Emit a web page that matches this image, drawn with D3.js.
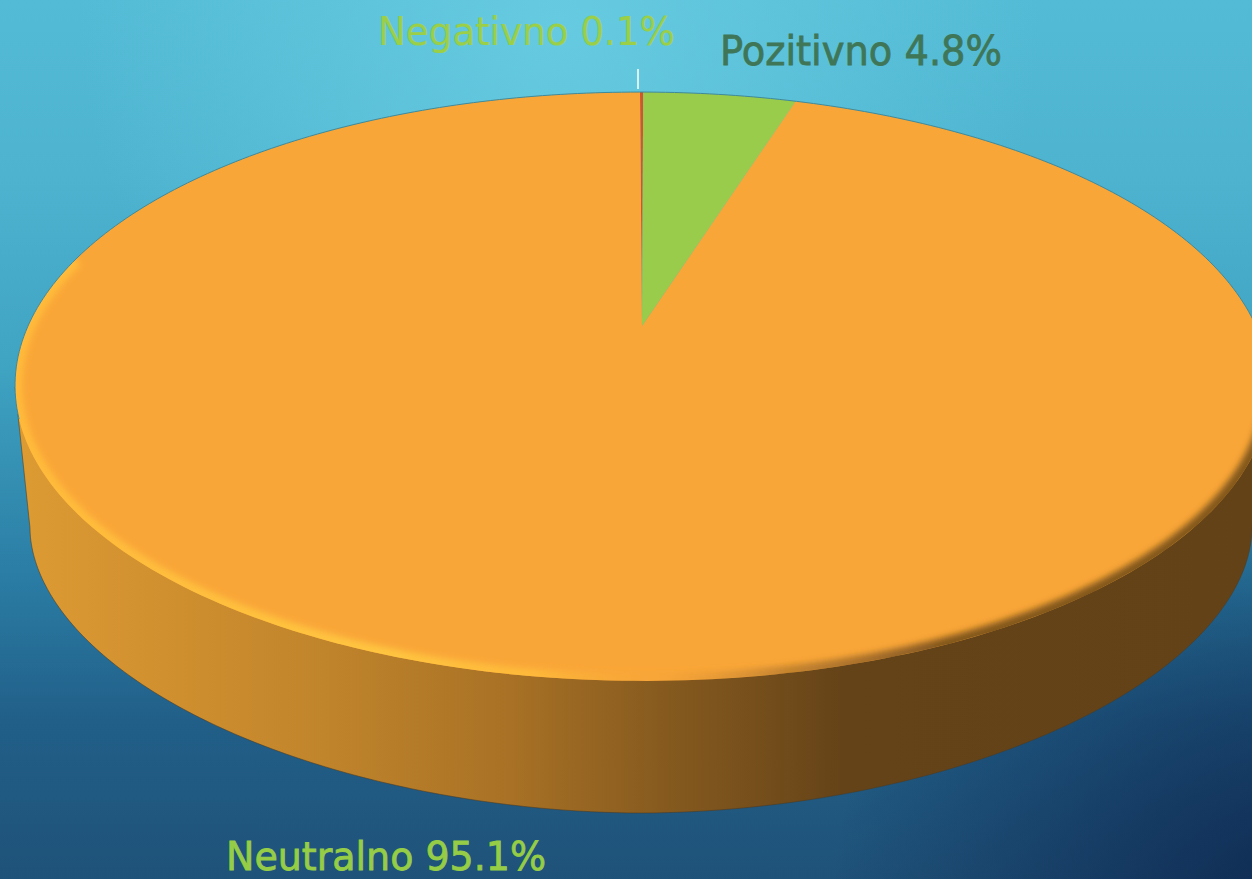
<!DOCTYPE html>
<html>
<head>
<meta charset="utf-8">
<script src="https://cdnjs.cloudflare.com/ajax/libs/d3/7.8.5/d3.min.js"></script>
<style>
  html, body { margin: 0; padding: 0; background: #1f5a80; overflow: hidden; }
  svg { display: block; }
</style>
</head>
<body>
<svg width="1252" height="879"></svg>
<script>
// Data
const categories = ["Negativno", "Pozitivno", "Neutralno"];
const values = [0.1, 4.8, 95.1];
const sliceColors = ["#d2552c", "#99cc4a", "#f9a638"];
const labelColors = ["#9bcf48", "#3f7658", "#96cd46"];

const width = 1252, height = 879;
const svg = d3.select("svg");

// Pie top is a tilted disc: perspective moves the apex above the ellipse centre
const apex = {x: 642, y: 326};
const persp = -0.2054, depth = 282, spread = 614, lean = 2;
function project(a) {
  const u = Math.sin(a), v = -Math.cos(a);
  const w = 1 + persp * v;
  return [apex.x + spread * u / w + lean * v, apex.y + depth * v / w];
}

// Lower rim of the wall, slightly flatter than an ellipse at the sides
const rim = {cx: 641, cy: 528, rx: 611, ry: 285, p: 1.9};
function rimPoint(a) {
  const c = Math.cos(a), s = Math.sin(a);
  return [
    rim.cx + rim.rx * Math.sign(c) * Math.pow(Math.abs(c), 2 / rim.p),
    rim.cy + rim.ry * Math.pow(Math.abs(s), 2 / rim.p)
  ];
}

const pie = d3.pie().sort(null).value(d => d)(values);
const line = d3.line();

function sample(a0, a1, n) {
  return d3.range(n + 1).map(i => a0 + (a1 - a0) * i / n);
}

const defs = svg.append("defs");

// Background
const bg = defs.append("linearGradient").attr("id", "bg")
  .attr("x1", 0).attr("y1", 0).attr("x2", 0).attr("y2", 1);
[[0, "#54bbd6"], [0.2, "#4db3cf"], [0.42, "#3fa3c2"], [0.66, "#2a7ca4"], [0.82, "#215f88"], [1, "#1f5279"]]
  .forEach(s => bg.append("stop").attr("offset", s[0]).attr("stop-color", s[1]));
const glow = defs.append("radialGradient").attr("id", "glow")
  .attr("gradientUnits", "userSpaceOnUse")
  .attr("cx", 560).attr("cy", 20).attr("r", 480);
glow.append("stop").attr("offset", 0).attr("stop-color", "#66cbe0").attr("stop-opacity", 1);
glow.append("stop").attr("offset", 1).attr("stop-color", "#66cbe0").attr("stop-opacity", 0);
const corner = defs.append("radialGradient").attr("id", "corner")
  .attr("gradientUnits", "userSpaceOnUse")
  .attr("cx", 1290).attr("cy", 920).attr("r", 460);
corner.append("stop").attr("offset", 0).attr("stop-color", "#0f2a52").attr("stop-opacity", 1);
corner.append("stop").attr("offset", 1).attr("stop-color", "#0f2a52").attr("stop-opacity", 0);

svg.append("rect").attr("width", width).attr("height", height).attr("fill", "url(#bg)");
svg.append("rect").attr("width", width).attr("height", height).attr("fill", "url(#glow)");
svg.append("rect").attr("width", width).attr("height", height).attr("fill", "url(#corner)");

// Wall shading runs left to right
const wall = defs.append("linearGradient").attr("id", "wall")
  .attr("gradientUnits", "userSpaceOnUse")
  .attr("x1", 16).attr("y1", 0).attr("x2", 1252).attr("y2", 0);
[[0, "#dd9b33"], [0.12, "#d0902f"], [0.25, "#c0842b"], [0.4, "#a87125"], [0.52, "#875b1f"], [0.67, "#654318"], [1, "#644217"]]
  .forEach(s => wall.append("stop").attr("offset", s[0]).attr("stop-color", s[1]));

const topOutline = sample(0, 2 * Math.PI, 360).map(a => project(a));
const leftTop = topOutline.reduce((m, p) => p[0] < m[0] ? p : m);
const rightTop = topOutline.reduce((m, p) => p[0] > m[0] ? p : m);

const wallPts = [leftTop]
  .concat(sample(Math.PI, 0, 240).map(rimPoint))
  .concat([rightTop]);
svg.append("path")
  .attr("d", line(wallPts) + "Z")
  .attr("fill", "url(#wall)")
  .attr("stroke", "#4a3a22")
  .attr("stroke-opacity", 0.55)
  .attr("stroke-width", 1);

// Top slices
svg.append("g").selectAll("path")
  .data(pie)
  .join("path")
    .attr("d", d => {
      const n = Math.max(2, Math.ceil((d.endAngle - d.startAngle) * 60));
      const pts = sample(d.startAngle, d.endAngle, n).map(a => project(a));
      return line([[apex.x, apex.y]].concat(pts)) + "Z";
    })
    .attr("fill", (d, i) => sliceColors[i]);

// Bevel on the disc edge
defs.append("clipPath").attr("id", "disc")
  .append("path").attr("d", line(topOutline) + "Z");
defs.append("filter").attr("id", "soft")
  .attr("x", "-5%").attr("y", "-5%").attr("width", "110%").attr("height", "110%")
  .append("feGaussianBlur").attr("stdDeviation", 3.2);

const bevel = defs.append("linearGradient").attr("id", "bevel")
  .attr("gradientUnits", "userSpaceOnUse")
  .attr("x1", 16).attr("y1", 0).attr("x2", 1252).attr("y2", 0);
[[0, "#ffba3a", 1], [0.3, "#ffc540", 1], [0.42, "#ffbb3a", 0.9], [0.52, "#f3a436", 0.2], [0.62, "#7a5220", 0.4], [0.75, "#5c3c16", 0.75], [1, "#5c3c16", 0.75]]
  .forEach(s => bevel.append("stop").attr("offset", s[0]).attr("stop-color", s[1]).attr("stop-opacity", s[2]));

svg.append("g").attr("clip-path", "url(#disc)")
  .append("path")
    .attr("d", line(sample(1.58 * Math.PI, 0.56 * Math.PI, 220).map(a => project(a))))
    .attr("fill", "none")
    .attr("stroke", "url(#bevel)")
    .attr("stroke-width", 15)
    .attr("filter", "url(#soft)");

// Thin outline along the back edge
svg.append("path")
  .attr("d", line(sample(1.4 * Math.PI, 2.5 * Math.PI, 200).map(a => project(a))))
  .attr("fill", "none")
  .attr("stroke", "#3f8a9c")
  .attr("stroke-width", 1);

// Leader line for the tiny slice
svg.append("line")
  .attr("x1", 638).attr("x2", 638).attr("y1", 69).attr("y2", 89)
  .attr("stroke", "#ffffff").attr("stroke-width", 1.5);

// Labels
const labelPos = [
  {x: 378, y: 45, w: 297, size: 39, bold: 0.2},
  {x: 720, y: 65, w: 282, size: 40, bold: 0.8},
  {x: 226, y: 869.5, w: 320, size: 39, bold: 0.8}
];
svg.append("g").selectAll("text")
  .data(categories)
  .join("text")
    .attr("x", (d, i) => labelPos[i].x)
    .attr("y", (d, i) => labelPos[i].y)
    .attr("textLength", (d, i) => labelPos[i].w)
    .attr("lengthAdjust", "spacingAndGlyphs")
    .attr("font-family", "'DejaVu Sans', sans-serif")
    .attr("font-size", (d, i) => labelPos[i].size)
    .attr("fill", (d, i) => labelColors[i])
    .attr("stroke", (d, i) => labelColors[i])
    .attr("stroke-width", (d, i) => labelPos[i].bold)
    .text((d, i) => `${d} ${values[i]}%`);
</script>
</body>
</html>
